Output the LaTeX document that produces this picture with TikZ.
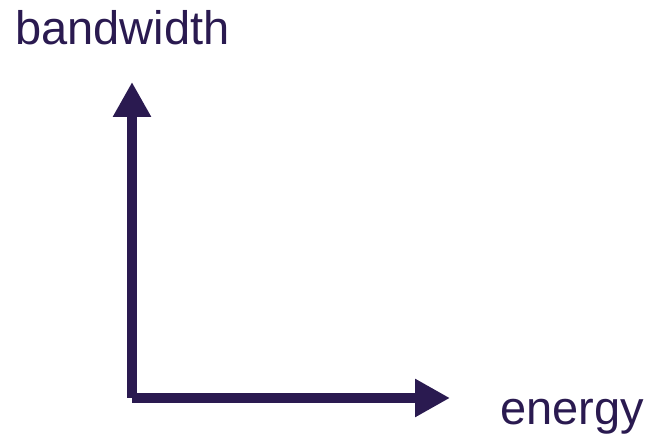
\documentclass[tikz,border=0pt]{standalone}
\usepackage{fontspec}
\setmainfont{Liberation Sans}
\usetikzlibrary{arrows.meta}
\definecolor{axiscol}{RGB}{42,26,80}
\tikzset{
  axis/.style={draw=axiscol, line width=10pt, -{Triangle[length=35pt,width=36pt]}},
  lbl/.style={inner sep=0pt, anchor=base west, text=axiscol, font=\fontsize{47}{56}\selectfont}
}
\begin{document}
\begin{tikzpicture}[x=1pt,y=-1pt]
\useasboundingbox (0,0) rectangle (649,435);
\coordinate (o) at (132,398);
\coordinate (ytip) at (132,82);
\coordinate (xtip) at (450,398);
\draw[axis] (o) -- (ytip);
\draw[axis] (o) -- (xtip);
\node[lbl] (bw) at (15,45) {bandwidth};
\node[lbl] (en) at (500,424.5) {energy};
\end{tikzpicture}
\end{document}
